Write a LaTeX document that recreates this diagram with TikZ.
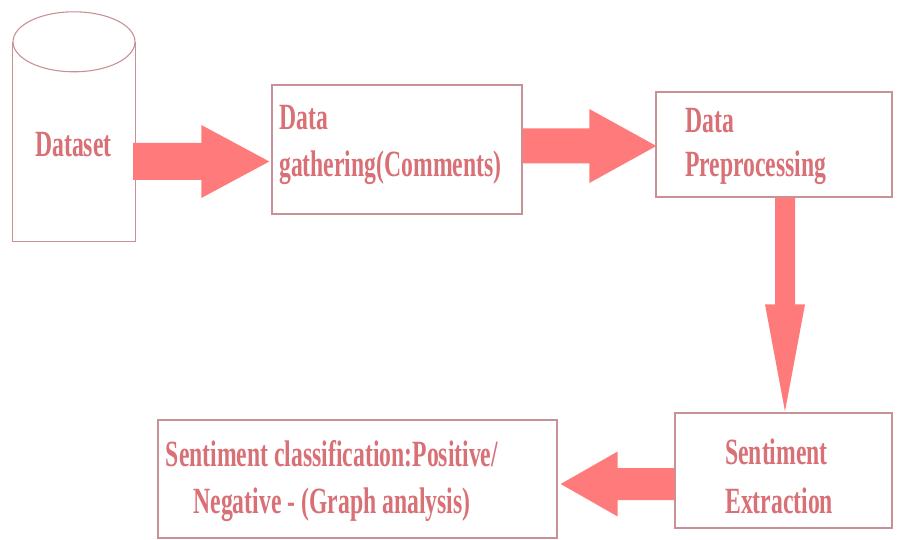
\documentclass[tikz,border=0pt]{standalone}
\usepackage{fontspec}
\setmainfont{Liberation Serif}[FakeStretch=0.64]
\usetikzlibrary{calc}
\definecolor{txt}{RGB}{216,112,118}
\definecolor{arr}{RGB}{255,123,123}
\definecolor{brd}{RGB}{200,145,150}
% #1 start, #2 tip, #3 shaft half width, #4 head half width, #5 head length
\newcommand\blockarrow[5]{%
  \coordinate (bahead) at ($(#2)!#5!(#1)$);
  \fill[arr] ($(#1)!#3!90:(#2)$) -- ($(bahead)!#3!90:(#2)$) -- ($(bahead)!#4!90:(#2)$) -- (#2)
     -- ($(bahead)!#4!-90:(#2)$) -- ($(bahead)!#3!-90:(#2)$) -- ($(#1)!#3!-90:(#2)$) -- cycle;}
\begin{document}
\begin{tikzpicture}[x=1pt,y=-1pt,
  box/.style={draw=brd, line width=1.3pt, inner sep=0pt},
  lab/.style={text=txt, inner sep=0pt, font=\fontsize{37}{47}\selectfont\bfseries}]
\useasboundingbox (0,0) rectangle (897,540);
% dataset cylinder
\node[inner sep=0pt, minimum width=122pt, minimum height=199pt] (ds) at (74,141.5) {};
\draw[brd, line width=1.3pt] (ds.north west) -- (ds.south west) -- (ds.south east) -- (ds.north east);
\draw[brd, line width=1.1pt] (ds.north) ellipse [x radius=61pt, y radius=30pt];
\node[lab, anchor=base west] (dst) at (35,157) {Dataset};
% boxes
\node[box, minimum width=250pt, minimum height=129pt] (g) at (397,149.5) {};
\node[box, minimum width=236pt, minimum height=105pt] (p) at (774,144.5) {};
\node[box, minimum width=217pt, minimum height=115pt] (se) at (783.5,470.5) {};
\node[box, minimum width=399pt, minimum height=118pt] (sc) at (357.5,479) {};
% labels
\node[lab, anchor=north west, align=left] (gt) at (279,105.5) {Data\\gathering(Comments)};
\node[lab, anchor=north west, align=left] (pt) at (685,108.5) {Data\\[-3pt]Preprocessing};
\node[lab, anchor=north west, align=left] (set) at (725,438.5) {Sentiment\\[2pt]Extraction};
\node[lab, anchor=north, align=center] (sct) at (332,440.5) {Sentiment classification:Positive/\\Negative - (Graph analysis)};
% connectors
\coordinate (a1s) at ([xshift=-2pt,yshift=-20pt]ds.east);
\coordinate (a1e) at ([xshift=-2pt]a1s -| g.west);
\blockarrow{a1s}{a1e}{18.5pt}{36.5pt}{68pt}
\coordinate (a2s) at ([yshift=3.5pt]g.east);
\coordinate (a2e) at ([xshift=1pt]a2s -| p.west);
\blockarrow{a2s}{a2e}{17.5pt}{37pt}{67pt}
\coordinate (a3s) at ([xshift=11pt]p.south);
\coordinate (a3e) at ([yshift=1pt]a3s |- se.north);
\blockarrow{a3s}{a3e}{10pt}{20pt}{107pt}
\coordinate (a4s) at ([yshift=-13.5pt]se.west);
\coordinate (a4e) at ([xshift=3pt]a4s -| sc.east);
\blockarrow{a4s}{a4e}{16pt}{32.5pt}{57pt}
\end{tikzpicture}
\end{document}
